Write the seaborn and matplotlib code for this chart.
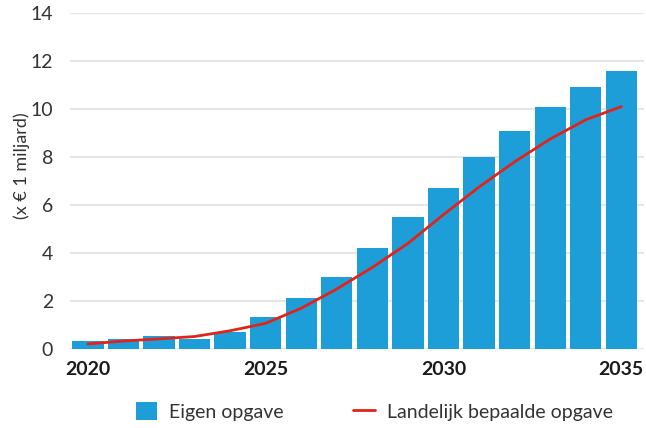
import matplotlib
matplotlib.use("Agg")
import matplotlib.pyplot as plt
import seaborn as sns
import pandas as pd

years = list(range(2020, 2036))
eigen_opgave = [0.33, 0.43, 0.54, 0.43, 0.72, 1.32, 2.14, 3.0, 4.2, 5.5, 6.7, 8.0, 9.1, 10.1, 10.9, 11.6]
landelijk = [0.21, 0.33, 0.42, 0.52, 0.76, 1.07, 1.7, 2.5, 3.4, 4.4, 5.6, 6.75, 7.8, 8.75, 9.55, 10.1]
year_ticks = [2020, 2025, 2030, 2035]

BLUE = "#1d9ed9"
RED = "#e2231a"

sns.set_theme(style="white")
plt.rcParams["font.family"] = ["Lato", "DejaVu Sans"]

df = pd.DataFrame({"jaar": years, "eigen": eigen_opgave, "landelijk": landelijk})

fig = plt.figure(figsize=(6.46, 4.28), dpi=100)
ax = fig.add_axes([0.108, 0.1846, 0.889, 0.785])

ax.yaxis.grid(True, color="#e6e6e6", linewidth=1.5)
ax.set_axisbelow(True)

sns.barplot(data=df, x="jaar", y="eigen", native_scale=True, width=0.88,
            color=BLUE, saturation=1, edgecolor="none", label="Eigen opgave", ax=ax)
sns.lineplot(data=df, x="jaar", y="landelijk", color=RED, linewidth=2,
             label="Landelijk bepaalde opgave", ax=ax)

ax.set_xlim(2019.49, 2035.64)
ax.set_ylim(0, 14)
ax.set_yticks(range(0, 15, 2))
ax.set_xticks(year_ticks)
ax.set_xticklabels([str(y) for y in year_ticks], fontweight="bold", fontsize=14)
ax.tick_params(axis="x", length=0, pad=9, labelcolor="#1a1a1a")
ax.tick_params(axis="y", length=0, pad=12, labelsize=14, labelcolor="#333333")
ax.set_xlabel("")
ax.set_ylabel("(x € 1 miljard)", fontsize=13, color="#333333")
ax.yaxis.set_label_coords(-0.07, 0.545)
sns.despine(ax=ax, left=True, bottom=True)

handles, labels = ax.get_legend_handles_labels()
order = [labels.index("Eigen opgave"), labels.index("Landelijk bepaalde opgave")]
ax.legend([handles[i] for i in order], [labels[i] for i in order],
          loc="upper center", bbox_to_anchor=(0.53, -0.105), ncol=2, frameon=False,
          fontsize=14, handlelength=1.1, handleheight=1.1, columnspacing=3.6,
          handletextpad=0.6, labelcolor="#333333")

fig.savefig("out.png", dpi=100)
